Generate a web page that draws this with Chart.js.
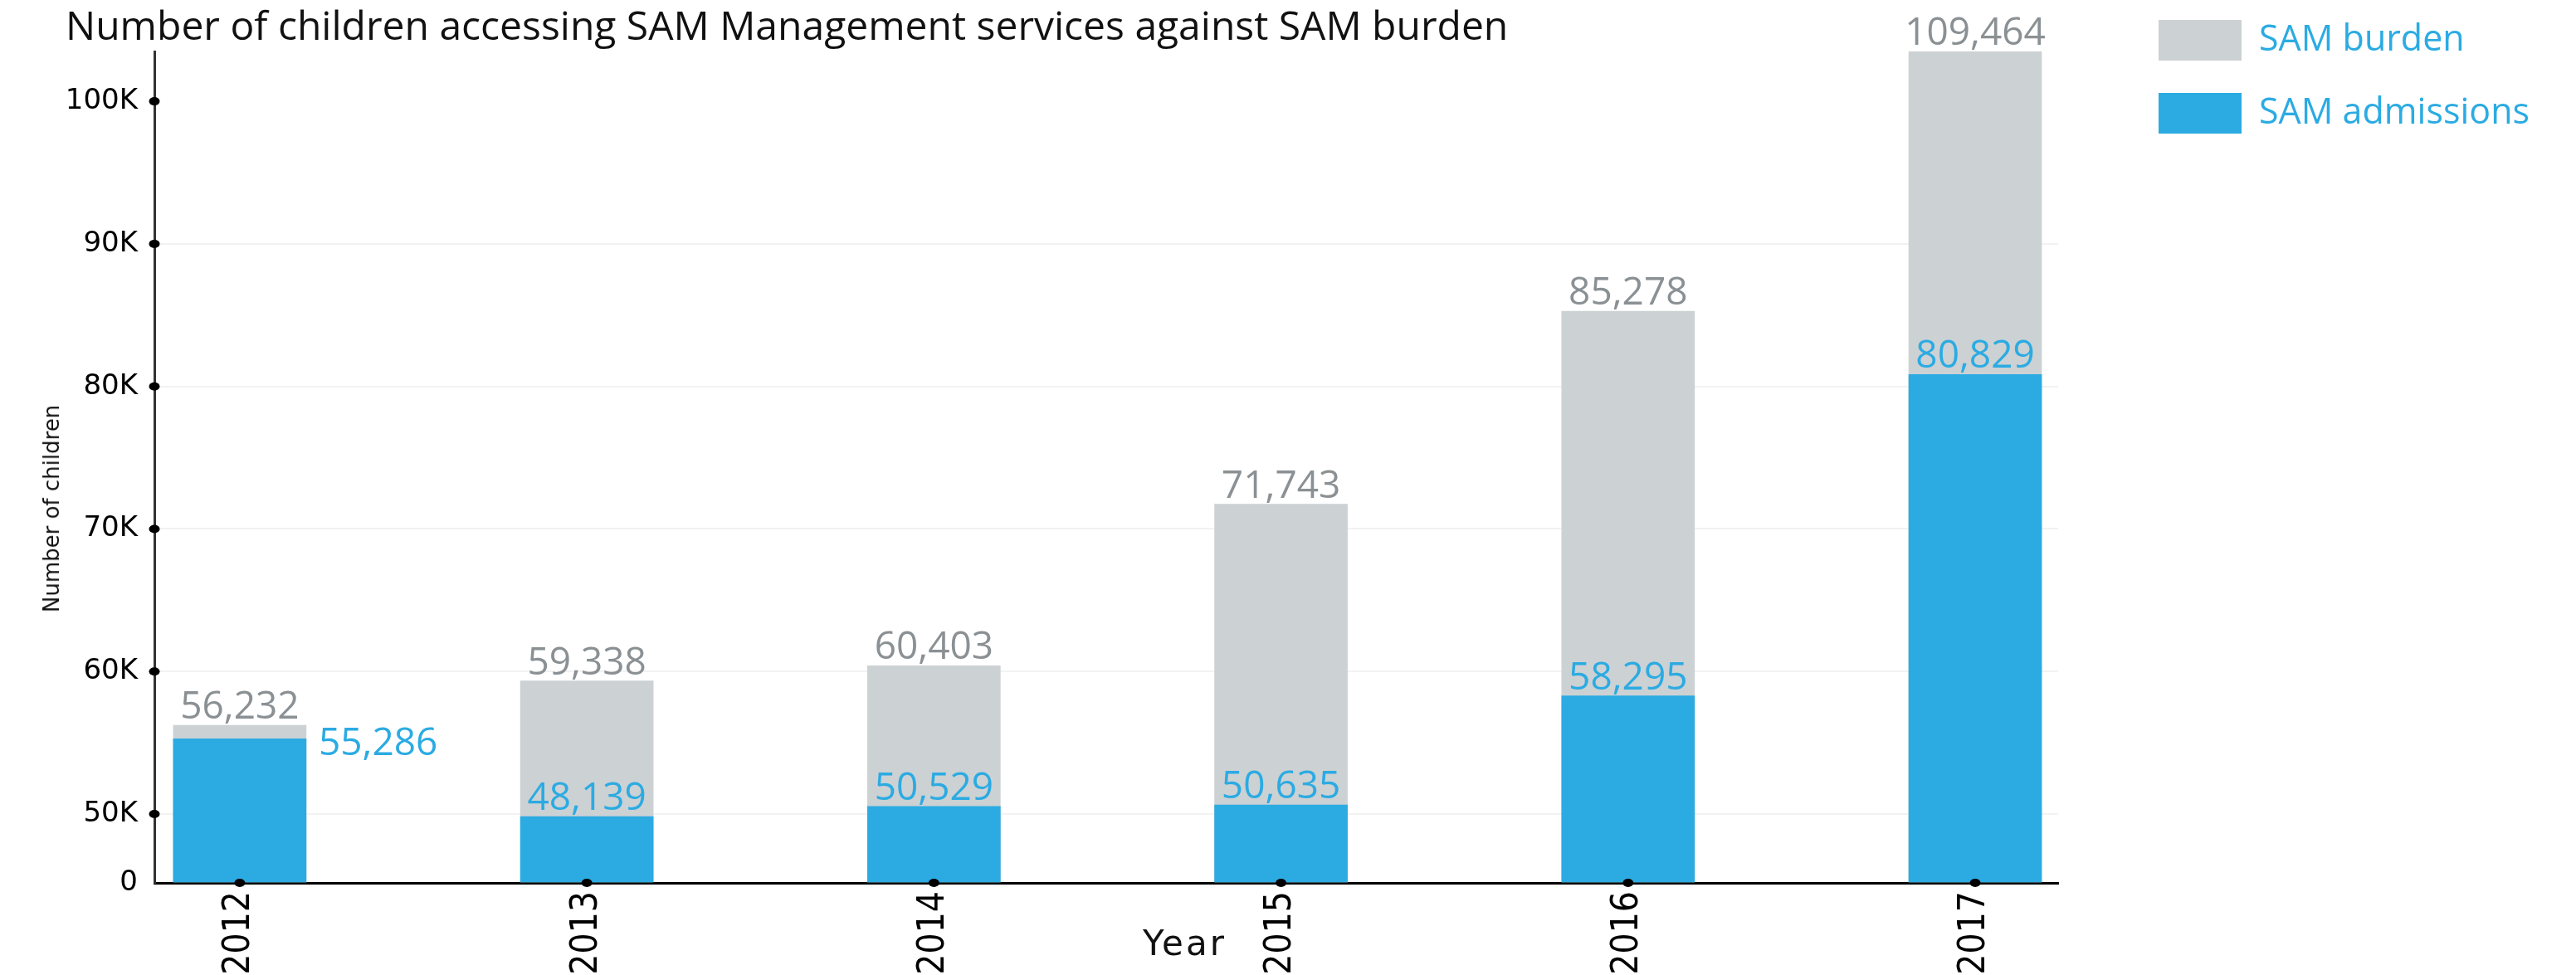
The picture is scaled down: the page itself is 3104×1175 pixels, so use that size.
<!DOCTYPE html>
<html>
<head>
<meta charset="utf-8">
<title>SAM burden vs admissions</title>
<script src="https://cdn.jsdelivr.net/npm/chart.js@4.4.1/dist/chart.umd.min.js"></script>
<style>
  body { margin: 0; background: #fff; }
  #wrap { position: relative; width: 3104px; height: 1175px; overflow: hidden; }
  #mychart { position: absolute; left: 0; top: 0; }
  .title { position: absolute; left: 79px; top: 6px; font: 48px "Open Sans", sans-serif; color: #111; line-height: 1; white-space: nowrap; }
  .ytitle { position: absolute; left: 62px; top: 613px; font: 26px "DejaVu Sans", sans-serif; color: #111;
            transform: translate(-50%, -50%) rotate(-90deg); white-space: nowrap; }
  .xtitle { position: absolute; left: 1377px; top: 1116px; font: 42px "DejaVu Sans", sans-serif; letter-spacing: 3px; color: #111; line-height: 1; }
  .legend-box { position: absolute; left: 2601px; width: 100px; height: 49px; }
  .legend-text { position: absolute; left: 2722px; font: 43px "Open Sans", sans-serif; color: #2babe2; line-height: 49px; white-space: nowrap; }
</style>
</head>
<body>
<div id="wrap">
  <canvas id="mychart" width="3104" height="1175"></canvas>
  <div class="title">Number of children accessing SAM Management services against SAM burden</div>
  <div class="ytitle">Number of children</div>
  <div class="xtitle">Year</div>
  <div class="legend-box" style="top:24px;background:#ccd1d4"></div>
  <div class="legend-text" style="top:20px">SAM burden</div>
  <div class="legend-box" style="top:112px;background:#2babe2"></div>
  <div class="legend-text" style="top:108px">SAM admissions</div>
</div>
<script>
// data
const years = [2012, 2013, 2014, 2015, 2016, 2017];
const burden = [56232, 59338, 60403, 71743, 85278, 109464];
const admissions = [55286, 48139, 50529, 50635, 58295, 80829];
const yTicks = [0, 50000, 60000, 70000, 80000, 90000, 100000];

const blue = '#2babe2';
const gray = '#ccd1d4';
const grayText = '#8a9093';

// y axis with 0-50K squeezed into a short piece at the bottom
const yBreak = 50000;
const yBreakSpan = 4830;

class BrokenScale extends Chart.LinearScale {
  toLin(v) {
    return v < yBreak ? v * yBreakSpan / yBreak : yBreakSpan + (v - yBreak);
  }
  fromLin(u) {
    return u < yBreakSpan ? u * yBreak / yBreakSpan : yBreak + (u - yBreakSpan);
  }
  getPixelForValue(value) {
    if (value === null || isNaN(value)) return NaN;
    const a = this.toLin(this.min);
    const b = this.toLin(this.max);
    return this.getPixelForDecimal((this.toLin(value) - a) / (b - a));
  }
  getValueForPixel(pixel) {
    const a = this.toLin(this.min);
    const b = this.toLin(this.max);
    return this.fromLin(a + this.getDecimalForPixel(pixel) * (b - a));
  }
}
BrokenScale.id = 'broken';
BrokenScale.defaults = Chart.LinearScale.defaults;
Chart.register(BrokenScale);

const fmt = v => v.toLocaleString('en-US');

// black dots on the axes at every tick
const axisDots = {
  id: 'axisDots',
  afterDraw(chart) {
    const ctx = chart.ctx;
    const x = chart.scales.x, y = chart.scales.y;
    ctx.save();
    ctx.fillStyle = '#000';
    y.ticks.forEach((t, i) => {
      if (t.value === 0) return;
      ctx.beginPath();
      ctx.ellipse(y.right, y.getPixelForTick(i), 6.5, 5, 0, 0, Math.PI * 2);
      ctx.fill();
    });
    x.ticks.forEach((t, i) => {
      ctx.beginPath();
      ctx.ellipse(x.getPixelForTick(i), x.top, 6.5, 5, 0, 0, Math.PI * 2);
      ctx.fill();
    });
    ctx.restore();
  }
};

// numbers over the bars
const valueLabels = {
  id: 'valueLabels',
  afterDatasetsDraw(chart) {
    const ctx = chart.ctx;
    const top = chart.chartArea.top;
    const bMeta = chart.getDatasetMeta(0);
    const aMeta = chart.getDatasetMeta(1);
    ctx.save();
    ctx.font = '46px "Open Sans"';
    bMeta.data.forEach((bar, i) => {
      const by = Math.max(bar.y, top);
      ctx.fillStyle = grayText;
      ctx.textAlign = 'center';
      ctx.textBaseline = 'alphabetic';
      ctx.fillText(fmt(burden[i]), bar.x, by - 8);

      const a = aMeta.data[i];
      ctx.fillStyle = blue;
      if (a.y - by < 45) {
        // no room in the grey part: put it beside the bar
        ctx.textAlign = 'left';
        ctx.textBaseline = 'middle';
        ctx.fillText(fmt(admissions[i]), a.x + a.width / 2 + 15, a.y + 7);
      } else {
        ctx.fillText(fmt(admissions[i]), a.x, a.y - 8);
      }
    });
    ctx.restore();
  }
};

const ctx = document.getElementById('mychart');

const barChart = new Chart(ctx, {
  type: 'bar',
  data: {
    datasets: [{
      label: 'SAM burden',
      data: years.map((y, i) => ({ x: y, y: burden[i] })),
      backgroundColor: gray,
      order: 1
    }, {
      label: 'SAM admissions',
      data: years.map((y, i) => ({ x: y, y: admissions[i] })),
      backgroundColor: blue,
      order: 0
    }]
  },
  options: {
    responsive: false,
    animation: false,
    events: [],
    grouped: false,
    barThickness: 160,
    layout: { padding: { top: 62, right: 624, bottom: 0, left: 0 } },
    plugins: {
      legend: { display: false },
      tooltip: { enabled: false }
    },
    scales: {
      x: {
        type: 'linear',
        offset: false,
        min: 2011.754,
        max: 2017.239,
        afterBuildTicks: scale => { scale.ticks = years.map(v => ({ value: v })); },
        afterFit: scale => { scale.height = 111; },
        grid: { display: false, drawTicks: false, offset: false },
        border: { display: true, color: '#000', width: 3 },
        ticks: {
          minRotation: 90,
          maxRotation: 90,
          padding: 10,
          color: '#000',
          font: { family: '"Liberation Sans Narrow", "DejaVu Sans Condensed", "DejaVu Sans"', size: 44 },
          callback: v => String(v)
        }
      },
      y: {
        type: 'broken',
        min: 0,
        max: 103500,
        afterBuildTicks: scale => { scale.ticks = yTicks.map(v => ({ value: v })); },
        afterFit: scale => { scale.width = 186; },
        grid: {
          drawTicks: false,
          lineWidth: 2,
          color: c => (c.tick && c.tick.value >= 50000 && c.tick.value <= 90000) ? '#f2f2f2' : 'rgba(0,0,0,0)'
        },
        border: { display: true, color: '#333', width: 3 },
        ticks: {
          padding: 20,
          color: '#000',
          font: { family: '"DejaVu Sans"', size: 34 },
          callback: v => v === 0 ? '0' : (v / 1000) + 'K'
        }
      }
    }
  },
  plugins: [axisDots, valueLabels]
});
</script>
</body>
</html>
